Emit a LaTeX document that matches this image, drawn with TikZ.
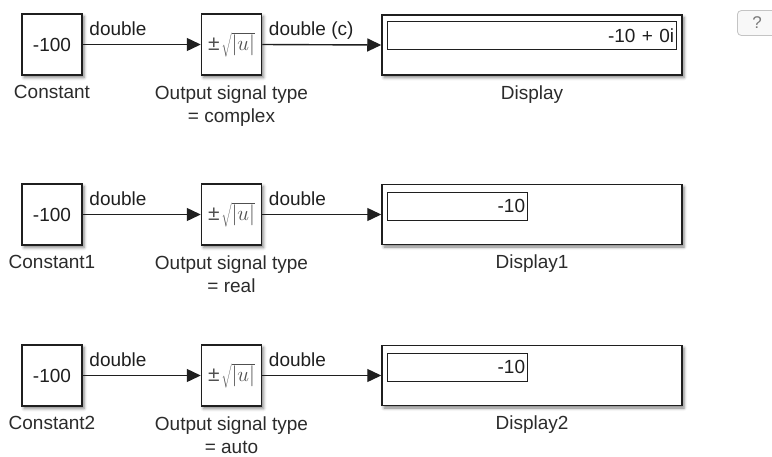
\RequirePackage{fix-cm}
\documentclass[tikz,border=0pt]{standalone}
\usepackage{fontspec}
\setmainfont{Liberation Sans}
\usepackage{xcolor}
\usepackage{tikz}
\usetikzlibrary{arrows.meta,positioning,shadows,shadows.blur}
\definecolor{Ink}{HTML}{1F1F1F}
\definecolor{Caption}{HTML}{2B2B2B}
\definecolor{GlyphGrey}{HTML}{505050}
\definecolor{HelpEdge}{HTML}{C4C4C4}
\definecolor{HelpFill}{HTML}{F8F8F8}
\definecolor{HelpMark}{HTML}{7A7A7A}

\newcommand{\absroot}{{\color{GlyphGrey}\fontsize{21}{21}\selectfont ±\kern2pt$\sqrt{|u|}$}}

\begin{document}
\begin{tikzpicture}[x=1pt,y=-1pt]
  \path[use as bounding box] (0,0) rectangle (772,456);
  \clip (0,0) rectangle (772,456);
  \tikzset{
    slBlock/.style={
      draw=Ink, fill=white, line width=1.5pt,
      minimum width=60pt, minimum height=61pt, inner sep=0pt,
      font=\fontsize{19}{23}\selectfont, text=Ink,
      blur shadow={shadow xshift=2pt, shadow yshift=-2.5pt,
        shadow blur radius=3pt, shadow opacity=50}
    },
    slDisplay/.style={slBlock, minimum width=300pt, minimum height=60pt},
    slReadout/.style={
      draw=Ink, line width=1.2pt, anchor=north west,
      minimum height=28pt, inner xsep=2.5pt, inner ysep=0pt, align=right,
      font=\fontsize{19}{23}\selectfont, text=Ink
    },
    slCaption/.style={
      inner sep=0pt, align=center,
      font=\fontsize{19}{23}\selectfont, text=Caption
    },
    slType/.style={
      inner sep=0pt, anchor=base west, xshift=6pt, yshift=9.5pt,
      font=\fontsize{19}{23}\selectfont, text=Ink
    },
    slSignal/.style={
      -{Triangle[length=14pt,width=13pt]}, draw=Ink, line width=1.4pt
    },
    slHelp/.style={
      draw=HelpEdge, fill=HelpFill, line width=.8pt, rounded corners=4pt,
      anchor=west, minimum height=25pt, inner xsep=15pt,
      font=\fontsize{17}{17}\selectfont, text=HelpMark
    }
  }

  % Zeile 1: Ausgabe komplex
  \node[slBlock] (const) at (52,44.5) {-100};
  \node[slBlock] (sqrtCplx) at (231.5,44.5) {\absroot};
  \node[slDisplay] (disp) at (532,45) {};
  \node[slReadout,text width=284pt] (dispVal) at (387,21) {-10 + 0i};
  \node[slCaption,below=9.5pt of const] (constCap) {Constant};
  \node[slCaption,below=9.5pt of sqrtCplx] (sqrtCplxCap) {Output signal type\\= complex};
  \node[slCaption,below=9.5pt of disp] (dispCap) {Display};
  \draw[slSignal] (const.east) -- node[slType,pos=0] {double} (sqrtCplx.west);
  \draw[slSignal] (sqrtCplx.east) -- node[slType,pos=0] {double (c)} (disp.west);

  % Zeile 2: Ausgabe reell
  \node[slBlock] (constA) at (52,214.5) {-100};
  \node[slBlock] (sqrtReal) at (231.5,214.5) {\absroot};
  \node[slDisplay] (dispA) at (532,214.5) {};
  \node[slReadout,text width=135pt] (dispAVal) at (387,191.5) {-10};
  \node[slCaption,below=9.5pt of constA] (constACap) {Constant1};
  \node[slCaption,below=9.5pt of sqrtReal] (sqrtRealCap) {Output signal type\\= real};
  \node[slCaption,below=9.5pt of dispA] (dispACap) {Display1};
  \draw[slSignal] (constA.east) -- node[slType,pos=0] {double} (sqrtReal.west);
  \draw[slSignal] (sqrtReal.east) -- node[slType,pos=0] {double} (dispA.west);

  % Zeile 3: Ausgabe automatisch
  \node[slBlock] (constB) at (52,375.5) {-100};
  \node[slBlock] (sqrtAuto) at (231.5,375.5) {\absroot};
  \node[slDisplay] (dispB) at (532,375.5) {};
  \node[slReadout,text width=135pt] (dispBVal) at (387,352.5) {-10};
  \node[slCaption,below=9.5pt of constB] (constBCap) {Constant2};
  \node[slCaption,below=9.5pt of sqrtAuto] (sqrtAutoCap) {Output signal type\\= auto};
  \node[slCaption,below=9.5pt of dispB] (dispBCap) {Display2};
  \draw[slSignal] (constB.east) -- node[slType,pos=0] {double} (sqrtAuto.west);
  \draw[slSignal] (sqrtAuto.east) -- node[slType,pos=0] {double} (dispB.west);

  \node[slHelp] (help) at (737,23) {?};
\end{tikzpicture}
\end{document}
